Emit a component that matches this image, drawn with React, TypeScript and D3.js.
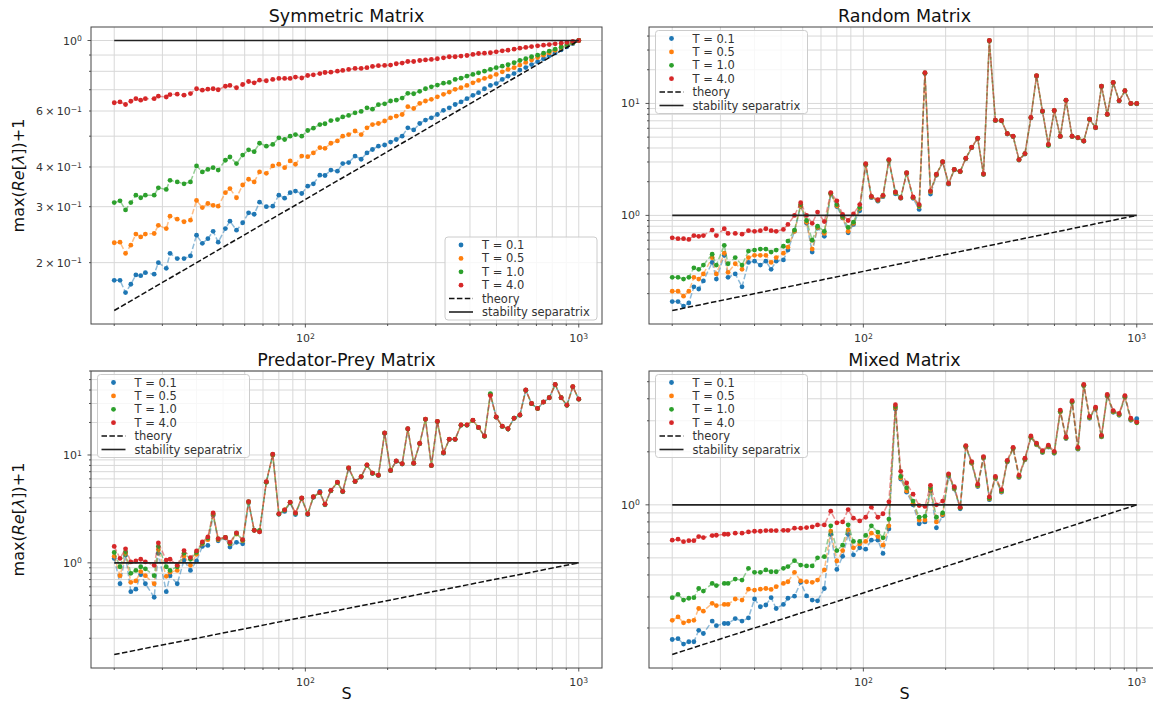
import React from 'react';
import * as d3 from 'd3';

// Matrix sizes S (integer sizes on a log grid from 20 to 1000)
const S = [
  20, 21, 22, 23, 24, 25, 26, 28, 29, 31,
  32, 34, 36, 38, 40, 42, 44, 46, 48, 51,
  53, 56, 59, 62, 65, 68, 72, 76, 80, 84,
  88, 92, 97, 102, 107, 113, 118, 124, 131, 137,
  144, 152, 160, 168, 176, 185, 195, 205, 215, 226,
  237, 249, 262, 275, 289, 304, 320, 336, 353, 371,
  390, 410, 430, 452, 475, 499, 525, 551, 580, 609,
  640, 672, 707, 743, 780, 820, 862, 905, 951, 1000,
];

const T_LABELS = ['T = 0.1', 'T = 0.5', 'T = 1.0', 'T = 4.0'];
const T_COLORS = ['#1f77b4', '#ff7f0e', '#2ca02c', '#d62728'];

// theory curve, evaluated at the smallest and largest S
const THEORY_ENDS = [0.1414, 1.0];
// stability separatrix level
const SEPARATRIX = 1.0;

// ---------- Symmetric matrix ----------
const SYM_T01 = [
  0.176, 0.176, 0.161, 0.171, 0.183, 0.182, 0.186, 0.184, 0.200, 0.192,
  0.214, 0.206, 0.206, 0.210, 0.244, 0.230, 0.238, 0.251, 0.232, 0.256,
  0.270, 0.253, 0.267, 0.287, 0.284, 0.310, 0.300, 0.301, 0.326, 0.319,
  0.332, 0.336, 0.330, 0.348, 0.354, 0.377, 0.376, 0.391, 0.388, 0.410,
  0.413, 0.433, 0.423, 0.443, 0.454, 0.465, 0.469, 0.479, 0.488, 0.500,
  0.531, 0.523, 0.548, 0.562, 0.571, 0.585, 0.603, 0.614, 0.629, 0.641,
  0.656, 0.672, 0.685, 0.705, 0.722, 0.732, 0.754, 0.772, 0.787, 0.807,
  0.822, 0.840, 0.858, 0.876, 0.895, 0.914, 0.934, 0.955, 0.977, 1.0,
];
const SYM_T05 = [
  0.231, 0.232, 0.214, 0.227, 0.246, 0.241, 0.246, 0.247, 0.262, 0.256,
  0.280, 0.274, 0.269, 0.272, 0.314, 0.298, 0.307, 0.303, 0.301, 0.332,
  0.342, 0.320, 0.351, 0.366, 0.359, 0.386, 0.382, 0.403, 0.408, 0.398,
  0.418, 0.408, 0.433, 0.431, 0.443, 0.460, 0.458, 0.475, 0.483, 0.500,
  0.506, 0.519, 0.506, 0.531, 0.544, 0.548, 0.558, 0.571, 0.578, 0.585,
  0.619, 0.611, 0.634, 0.645, 0.653, 0.665, 0.677, 0.688, 0.702, 0.710,
  0.722, 0.736, 0.749, 0.760, 0.769, 0.782, 0.797, 0.811, 0.821, 0.837,
  0.853, 0.868, 0.884, 0.899, 0.915, 0.931, 0.948, 0.965, 0.982, 1.0,
];
const SYM_T1 = [
  0.309, 0.313, 0.293, 0.309, 0.326, 0.320, 0.326, 0.326, 0.344, 0.340,
  0.363, 0.359, 0.354, 0.359, 0.403, 0.386, 0.393, 0.398, 0.391, 0.420,
  0.430, 0.410, 0.436, 0.453, 0.447, 0.475, 0.465, 0.471, 0.494, 0.488,
  0.500, 0.506, 0.500, 0.521, 0.530, 0.544, 0.547, 0.560, 0.564, 0.575,
  0.581, 0.592, 0.598, 0.614, 0.608, 0.628, 0.632, 0.645, 0.649, 0.659,
  0.682, 0.680, 0.692, 0.705, 0.715, 0.724, 0.734, 0.738, 0.754, 0.761,
  0.773, 0.782, 0.791, 0.801, 0.811, 0.821, 0.830, 0.839, 0.851, 0.865,
  0.876, 0.889, 0.899, 0.912, 0.926, 0.940, 0.954, 0.969, 0.984, 1.0,
];
const SYM_T4 = [
  0.637, 0.641, 0.629, 0.644, 0.656, 0.649, 0.656, 0.656, 0.668, 0.664,
  0.676, 0.678, 0.673, 0.681, 0.705, 0.698, 0.703, 0.705, 0.700, 0.718,
  0.722, 0.710, 0.727, 0.743, 0.736, 0.750, 0.747, 0.754, 0.760, 0.760,
  0.760, 0.767, 0.762, 0.776, 0.780, 0.787, 0.793, 0.795, 0.801, 0.805,
  0.811, 0.817, 0.817, 0.821, 0.829, 0.833, 0.835, 0.837, 0.845, 0.849,
  0.859, 0.859, 0.865, 0.869, 0.872, 0.876, 0.882, 0.889, 0.889, 0.893,
  0.897, 0.904, 0.910, 0.912, 0.915, 0.921, 0.928, 0.932, 0.939, 0.946,
  0.951, 0.957, 0.962, 0.967, 0.971, 0.976, 0.981, 0.986, 0.993, 1.0,
];

// ---------- Random matrix ----------
const RND_T01 = [
  0.17, 0.17, 0.155, 0.165, 0.23, 0.22, 0.26, 0.38, 0.27, 0.44,
  0.28, 0.30, 0.23, 0.38, 0.39, 0.36, 0.39, 0.33, 0.39, 0.40,
  0.49, 0.72, 1.20, 0.85, 0.47, 0.77, 0.65, 1.55, 1.20, 0.95,
  0.70, 0.83, 1.10, 2.82, 1.44, 1.34, 1.47, 3.08, 1.56, 1.42,
  2.36, 1.42, 1.13, 18.5, 1.55, 2.28, 2.98, 1.90, 2.55, 2.45,
  3.20, 4.02, 4.85, 2.32, 36.2, 7.02, 7.00, 5.33, 5.05, 3.12,
  3.53, 7.42, 17.5, 8.45, 4.26, 8.60, 5.05, 10.6, 5.05, 4.92,
  4.60, 7.18, 6.05, 14.1, 7.95, 15.2, 10.5, 12.9, 9.95, 9.90,
];
const RND_T05 = [
  0.21, 0.21, 0.19, 0.21, 0.28, 0.27, 0.30, 0.42, 0.30, 0.46,
  0.31, 0.37, 0.33, 0.42, 0.44, 0.44, 0.44, 0.38, 0.42, 0.46,
  0.52, 0.72, 1.22, 0.87, 0.50, 0.78, 0.69, 1.56, 1.22, 0.96,
  0.72, 0.85, 1.15, 2.85, 1.46, 1.36, 1.49, 3.10, 1.59, 1.43,
  2.38, 1.44, 1.20, 18.6, 1.62, 2.30, 3.00, 1.92, 2.56, 2.46,
  3.22, 4.04, 4.87, 2.33, 36.3, 7.05, 7.02, 5.36, 5.07, 3.13,
  3.55, 7.46, 17.6, 8.50, 4.28, 8.62, 5.07, 10.65, 5.07, 4.94,
  4.61, 7.21, 6.07, 14.2, 7.98, 15.3, 10.55, 12.95, 9.97, 9.95,
];
const RND_T1 = [
  0.28, 0.28, 0.27, 0.28, 0.34, 0.33, 0.36, 0.45, 0.36, 0.54,
  0.37, 0.42, 0.36, 0.48, 0.49, 0.50, 0.50, 0.47, 0.49, 0.53,
  0.59, 0.74, 1.25, 0.90, 0.60, 0.80, 0.72, 1.58, 1.25, 0.98,
  0.78, 0.87, 1.18, 2.87, 1.47, 1.37, 1.50, 3.12, 1.61, 1.44,
  2.40, 1.45, 1.22, 18.7, 1.64, 2.32, 3.01, 1.93, 2.57, 2.47,
  3.23, 4.05, 4.88, 2.34, 36.4, 7.07, 7.03, 5.38, 5.09, 3.14,
  3.56, 7.48, 17.65, 8.52, 4.20, 8.64, 5.09, 10.68, 5.09, 4.95,
  4.62, 7.23, 6.09, 14.25, 8.00, 15.35, 10.58, 12.98, 9.99, 9.98,
];
const RND_T4 = [
  0.63, 0.62, 0.62, 0.61, 0.66, 0.65, 0.66, 0.74, 0.66, 0.76,
  0.69, 0.69, 0.68, 0.73, 0.72, 0.73, 0.76, 0.73, 0.72, 0.75,
  0.83, 1.00, 1.30, 1.00, 0.85, 1.07, 0.88, 1.60, 1.35, 1.02,
  0.90, 1.03, 1.25, 2.90, 1.48, 1.38, 1.51, 3.15, 1.62, 1.44,
  2.41, 1.46, 1.25, 18.8, 1.65, 2.33, 3.02, 1.93, 2.58, 2.48,
  3.24, 4.06, 4.89, 2.35, 36.5, 7.09, 7.04, 5.39, 5.10, 3.15,
  3.57, 7.50, 17.7, 8.54, 4.30, 8.65, 5.10, 10.7, 5.10, 4.96,
  4.63, 7.24, 6.10, 14.3, 8.02, 15.4, 10.6, 13.0, 10.0, 10.0,
];

// ---------- Predator-prey matrix ----------
const PP_T01 = [
  1.10, 0.64, 1.18, 0.54, 0.57, 0.78, 0.64, 0.48, 1.23, 0.54,
  0.76, 0.64, 1.06, 0.85, 1.04, 1.42, 1.45, 2.75, 1.60, 1.70,
  1.40, 1.55, 1.50, 3.60, 2.00, 1.94, 5.60, 10.0, 2.82, 3.00,
  3.60, 2.80, 3.95, 2.80, 4.05, 4.60, 3.45, 4.65, 5.55, 4.55,
  7.50, 5.65, 6.25, 8.00, 6.75, 6.45, 15.9, 7.15, 8.75, 8.25,
  17.4, 8.35, 12.7, 21.4, 7.95, 20.4, 10.4, 13.9, 13.9, 18.9,
  18.9, 20.9, 17.9, 14.9, 36.5, 22.4, 18.4, 17.4, 21.9, 23.4,
  39.8, 29.9, 26.9, 30.9, 33.9, 44.8, 33.9, 28.9, 42.8, 32.9,
];
const PP_T05 = [
  1.15, 0.76, 1.22, 0.66, 0.68, 0.83, 0.76, 0.64, 1.32, 0.75,
  0.82, 0.85, 1.16, 0.95, 1.20, 1.50, 1.64, 2.80, 1.64, 1.72,
  1.50, 1.85, 1.60, 3.65, 2.00, 1.95, 5.60, 10.0, 2.84, 3.09,
  3.63, 2.89, 3.98, 2.84, 4.09, 4.48, 3.49, 4.68, 5.58, 4.59,
  7.57, 5.69, 6.28, 8.07, 6.78, 6.48, 15.95, 7.18, 8.78, 8.28,
  17.45, 8.38, 12.78, 21.45, 7.98, 20.45, 10.48, 13.97, 13.97, 18.95,
  18.95, 20.95, 17.95, 14.95, 36.5, 22.45, 18.45, 17.45, 21.95, 23.45,
  39.9, 29.95, 26.95, 30.95, 33.95, 44.9, 33.95, 28.95, 42.9, 32.95,
];
const PP_T1 = [
  1.25, 0.92, 1.27, 0.80, 0.85, 0.92, 0.88, 0.76, 1.42, 0.92,
  0.85, 0.92, 1.23, 1.08, 1.25, 1.52, 1.70, 2.85, 1.66, 1.72,
  1.52, 1.88, 1.62, 3.70, 2.00, 2.00, 5.60, 10.1, 2.83, 3.08,
  3.62, 2.88, 3.97, 2.83, 4.08, 4.47, 3.48, 4.67, 5.57, 4.58,
  7.55, 5.68, 6.27, 8.05, 6.77, 6.47, 15.9, 7.17, 8.76, 8.27,
  17.4, 8.37, 12.75, 21.4, 7.97, 20.4, 10.45, 13.95, 13.95, 18.9,
  18.9, 20.9, 17.9, 14.9, 37.0, 22.4, 18.4, 17.4, 21.9, 23.4,
  39.8, 29.9, 26.9, 30.9, 33.9, 44.8, 33.9, 28.9, 42.8, 32.9,
];
const PP_T4 = [
  1.42, 1.10, 1.35, 1.02, 1.04, 1.08, 1.02, 0.95, 1.53, 1.06,
  1.08, 0.95, 1.30, 1.12, 1.29, 1.56, 1.74, 2.90, 1.68, 1.72,
  1.55, 1.90, 1.64, 3.70, 2.00, 1.94, 5.66, 10.2, 2.85, 3.10,
  3.65, 2.90, 4.00, 2.85, 4.10, 4.50, 3.50, 4.70, 5.60, 4.60,
  7.60, 5.70, 6.30, 8.10, 6.80, 6.50, 16.0, 7.20, 8.80, 8.30,
  17.5, 8.40, 12.8, 21.5, 8.00, 20.5, 10.5, 14.0, 14.0, 19.0,
  19.0, 21.0, 18.0, 15.0, 35.5, 22.5, 18.5, 17.5, 22.0, 23.5,
  40.0, 30.0, 27.0, 31.0, 34.0, 45.0, 34.0, 29.0, 43.0, 33.0,
];

// ---------- Mixed matrix ----------
const MX_T01 = [
  0.172, 0.174, 0.162, 0.167, 0.167, 0.194, 0.186, 0.219, 0.206, 0.212,
  0.212, 0.226, 0.219, 0.228, 0.292, 0.264, 0.270, 0.297, 0.258, 0.272,
  0.295, 0.303, 0.363, 0.304, 0.288, 0.285, 0.335, 0.68, 0.43, 0.51,
  0.68, 0.52, 0.57, 0.56, 0.63, 0.63, 0.53, 0.73, 3.50, 1.40,
  1.18, 1.00, 0.78, 0.80, 1.20, 0.74, 0.87, 1.45, 1.23, 0.95,
  2.13, 1.72, 1.27, 1.84, 1.07, 1.41, 1.18, 1.75, 2.08, 1.43,
  1.80, 2.41, 2.19, 1.98, 2.13, 1.96, 3.36, 2.38, 3.81, 2.07,
  4.74, 3.10, 3.50, 2.43, 4.14, 3.35, 3.22, 4.08, 3.02, 3.08,
];
const MX_T05 = [
  0.221, 0.231, 0.214, 0.219, 0.221, 0.258, 0.249, 0.276, 0.268, 0.272,
  0.272, 0.292, 0.288, 0.332, 0.328, 0.332, 0.335, 0.331, 0.343, 0.358,
  0.366, 0.414, 0.370, 0.366, 0.363, 0.374, 0.427, 0.71, 0.48, 0.55,
  0.72, 0.57, 0.60, 0.62, 0.69, 0.66, 0.59, 0.76, 3.55, 1.42,
  1.20, 1.02, 0.82, 0.82, 1.22, 0.80, 0.88, 1.47, 1.24, 0.96,
  2.14, 1.73, 1.28, 1.85, 1.08, 1.42, 1.19, 1.76, 2.09, 1.44,
  1.81, 2.42, 2.20, 1.99, 2.14, 1.97, 3.38, 2.39, 3.83, 2.08,
  4.76, 3.12, 3.52, 2.44, 4.16, 3.37, 3.24, 4.10, 3.04, 2.94,
];
const MX_T1 = [
  0.297, 0.310, 0.288, 0.295, 0.297, 0.335, 0.324, 0.358, 0.348, 0.358,
  0.358, 0.379, 0.374, 0.436, 0.414, 0.414, 0.427, 0.417, 0.417, 0.436,
  0.446, 0.482, 0.455, 0.450, 0.450, 0.500, 0.508, 0.76, 0.55, 0.59,
  0.77, 0.62, 0.62, 0.67, 0.76, 0.70, 0.65, 0.83, 3.60, 1.45,
  1.25, 1.05, 0.85, 0.86, 1.25, 0.85, 0.90, 1.48, 1.25, 0.96,
  2.15, 1.74, 1.29, 1.86, 1.09, 1.43, 1.20, 1.77, 2.10, 1.45,
  1.82, 2.43, 2.21, 2.00, 2.15, 1.98, 3.40, 2.40, 3.85, 2.09,
  4.78, 3.14, 3.54, 2.45, 4.18, 3.39, 3.26, 4.12, 3.06, 2.92,
];
const MX_T4 = [
  0.630, 0.638, 0.618, 0.626, 0.626, 0.660, 0.652, 0.669, 0.672, 0.681,
  0.681, 0.690, 0.690, 0.702, 0.708, 0.708, 0.714, 0.714, 0.714, 0.717,
  0.717, 0.737, 0.737, 0.743, 0.750, 0.769, 0.769, 0.92, 0.79, 0.80,
  0.94, 0.84, 0.81, 0.85, 0.97, 0.85, 0.89, 1.04, 3.70, 1.55,
  1.33, 1.15, 0.99, 0.98, 1.29, 1.00, 1.05, 1.50, 1.27, 0.97,
  2.17, 1.76, 1.31, 1.88, 1.11, 1.45, 1.22, 1.79, 2.12, 1.47,
  1.84, 2.46, 2.24, 2.03, 2.18, 2.01, 3.45, 2.43, 3.90, 2.12,
  4.82, 3.18, 3.58, 2.48, 4.23, 3.43, 3.30, 4.17, 3.10, 2.95,
];

// y tick values that carry a label in each panel
const SYM_YLABELS = [1, 0.6, 0.4, 0.3, 0.2];
const RND_YLABELS = [1, 10];
const PP_YLABELS = [1, 10];
const MX_YLABELS = [1];

const FONT = "'DejaVu Sans', sans-serif";
const PW = 511;
const PH = 297;
const INK = '#333333';
const SPINE = '#444444';
const GRID = '#d8d8d8';
const DASH = '5.5,2.4';

type PanelSpec = {
  id: string;
  title: string;
  left: number;
  top: number;
  series: number[][];
  legend: 'ul' | 'lr';
  yLabels: number[];
  yTitle: boolean;
  xTitle: boolean;
};

const PANELS: PanelSpec[] = [
  { id: 'sym', title: 'Symmetric Matrix', left: 91, top: 27, series: [SYM_T01, SYM_T05, SYM_T1, SYM_T4], legend: 'lr', yLabels: SYM_YLABELS, yTitle: true, xTitle: false },
  { id: 'rnd', title: 'Random Matrix', left: 649, top: 27, series: [RND_T01, RND_T05, RND_T1, RND_T4], legend: 'ul', yLabels: RND_YLABELS, yTitle: false, xTitle: false },
  { id: 'pp', title: 'Predator-Prey Matrix', left: 91, top: 371, series: [PP_T01, PP_T05, PP_T1, PP_T4], legend: 'ul', yLabels: PP_YLABELS, yTitle: true, xTitle: true },
  { id: 'mx', title: 'Mixed Matrix', left: 649, top: 371, series: [MX_T01, MX_T05, MX_T1, MX_T4], legend: 'ul', yLabels: MX_YLABELS, yTitle: false, xTitle: true },
];

// log-space autoscale with a 5% margin on both ends
function paddedLog(lo: number, hi: number): [number, number] {
  const a = Math.log10(lo);
  const b = Math.log10(hi);
  const p = (b - a) * 0.05;
  return [Math.pow(10, a - p), Math.pow(10, b + p)];
}

function isDecade(v: number) {
  const l = Math.log10(v);
  return Math.abs(l - Math.round(l)) < 1e-6;
}

function SciLabel({ v, ...rest }: any) {
  const e = Math.floor(Math.log10(v) + 1e-9);
  const m = Math.round(v / Math.pow(10, e));
  const exp = e < 0 ? `\u2212${-e}` : `${e}`;
  const base = m === 1 ? '10' : `${m}\u2009\u00d7\u200910`;
  return (
    <text {...rest}>
      {base}
      <tspan dy="-0.45em" fontSize="0.7em">{exp}</tspan>
    </text>
  );
}

function Panel({ spec }: { spec: PanelSpec }) {
  const { left, top, series } = spec;
  const x = d3.scaleLog().domain(paddedLog(d3.min(S)!, d3.max(S)!)).range([0, PW]);
  const all = series.flat().concat(THEORY_ENDS, [SEPARATRIX]);
  const y = d3.scaleLog().domain(paddedLog(d3.min(all)!, d3.max(all)!)).range([PH, 0]);

  const xTicks = x.ticks();
  const yTicks = y.ticks();
  const line = d3.line<number>().x((_, i) => x(S[i])).y((d) => y(d));
  const clipId = `clip-${spec.id}`;

  const s0 = S[0];
  const s1 = S[S.length - 1];

  // legend geometry
  const LW = 152;
  const LH = 83;
  const lx = spec.legend === 'ul' ? 6.5 : PW - 5 - LW;
  const ly = spec.legend === 'ul' ? 3.5 : PH - 4 - LH;
  const rows = [8, 21.4, 34.8, 48.2, 61.6, 75];

  return (
    <g transform={`translate(${left},${top})`}>
      <defs>
        <clipPath id={clipId}>
          <rect x={0} y={0} width={PW} height={PH} />
        </clipPath>
      </defs>
      {/* grid */}
      <g stroke={GRID} strokeWidth={1}>
        {xTicks.map((t, i) => (
          <line key={`gx${i}`} x1={x(t)} x2={x(t)} y1={0} y2={PH} />
        ))}
        {yTicks.map((t, i) => (
          <line key={`gy${i}`} x1={0} x2={PW} y1={y(t)} y2={y(t)} />
        ))}
      </g>
      {/* data */}
      <g clipPath={`url(#${clipId})`}>
        {series.map((vals, k) => (
          <g key={`s${k}`}>
            <path d={line(vals) || ''} fill="none" stroke={T_COLORS[k]} strokeWidth={1.5} strokeDasharray={DASH} opacity={0.5} />
            {vals.map((v, i) => (
              <circle key={i} cx={x(S[i])} cy={y(v)} r={2.4} fill={T_COLORS[k]} />
            ))}
          </g>
        ))}
        <line x1={x(s0)} x2={x(s1)} y1={y(THEORY_ENDS[0])} y2={y(THEORY_ENDS[1])} stroke="#111" strokeWidth={1.5} strokeDasharray={DASH} />
        <line x1={x(s0)} x2={x(s1)} y1={y(SEPARATRIX)} y2={y(SEPARATRIX)} stroke="#222" strokeWidth={1.6} />
      </g>
      {/* frame */}
      <rect x={0} y={0} width={PW} height={PH} fill="none" stroke={SPINE} strokeWidth={1} />
      {/* ticks */}
      <g stroke={SPINE} strokeWidth={0.9}>
        {xTicks.map((t, i) => (
          <line key={`tx${i}`} x1={x(t)} x2={x(t)} y1={PH} y2={PH + (isDecade(t) ? 3.5 : 2)} />
        ))}
        {yTicks.map((t, i) => (
          <line key={`ty${i}`} x1={0} x2={isDecade(t) ? -3.5 : -2} y1={y(t)} y2={y(t)} />
        ))}
      </g>
      {/* tick labels */}
      <g fontFamily={FONT} fontSize={11} fill={INK}>
        {xTicks.filter(isDecade).map((t, i) => (
          <SciLabel key={`lx${i}`} v={t} x={x(t)} y={PH + 18} textAnchor="middle" />
        ))}
        {spec.yLabels.map((t, i) => (
          <SciLabel key={`ly${i}`} v={t} x={-9} y={y(t) + 4} textAnchor="end" />
        ))}
      </g>
      {/* title */}
      <text x={PW / 2} y={-5} textAnchor="middle" fontFamily={FONT} fontSize={17.5} fill="#111">
        {spec.title}
      </text>
      {spec.xTitle && (
        <text x={PW / 2} y={PH + 31} textAnchor="middle" fontFamily={FONT} fontSize={16} fill="#111">
          S
        </text>
      )}
      {spec.yTitle && (
        <text transform={`translate(${18 - left},${PH / 2}) rotate(-90)`} textAnchor="middle" dominantBaseline="central" fontFamily={FONT} fontSize={16} fill="#111">
          max(<tspan fontStyle="italic">Re</tspan>[<tspan fontStyle="italic">λ</tspan>])+1
        </text>
      )}
      {/* legend */}
      <g transform={`translate(${lx},${ly})`} fontFamily={FONT} fontSize={11.5} fill={INK}>
        <rect x={0} y={0} width={LW} height={LH} rx={3} fill="white" fillOpacity={0.8} stroke="#cccccc" strokeWidth={1} />
        {T_LABELS.map((lab, k) => (
          <g key={lab}>
            <circle cx={16} cy={rows[k]} r={2.4} fill={T_COLORS[k]} />
            <text x={37} y={rows[k] + 4}>{lab}</text>
          </g>
        ))}
        <line x1={4} x2={28} y1={rows[4]} y2={rows[4]} stroke="#111" strokeWidth={1.5} strokeDasharray={DASH} />
        <text x={37} y={rows[4] + 4}>theory</text>
        <line x1={4} x2={28} y1={rows[5]} y2={rows[5]} stroke="#222" strokeWidth={1.6} />
        <text x={37} y={rows[5] + 4}>stability separatrix</text>
      </g>
    </g>
  );
}

export default function App() {
  return (
    <svg
      width={1153}
      height={702}
      viewBox="0 0 1153 702"
      style={{ position: 'absolute', left: 0, top: 0, background: 'white' }}
    >
      {PANELS.map((p) => (
        <Panel key={p.id} spec={p} />
      ))}
    </svg>
  );
}
